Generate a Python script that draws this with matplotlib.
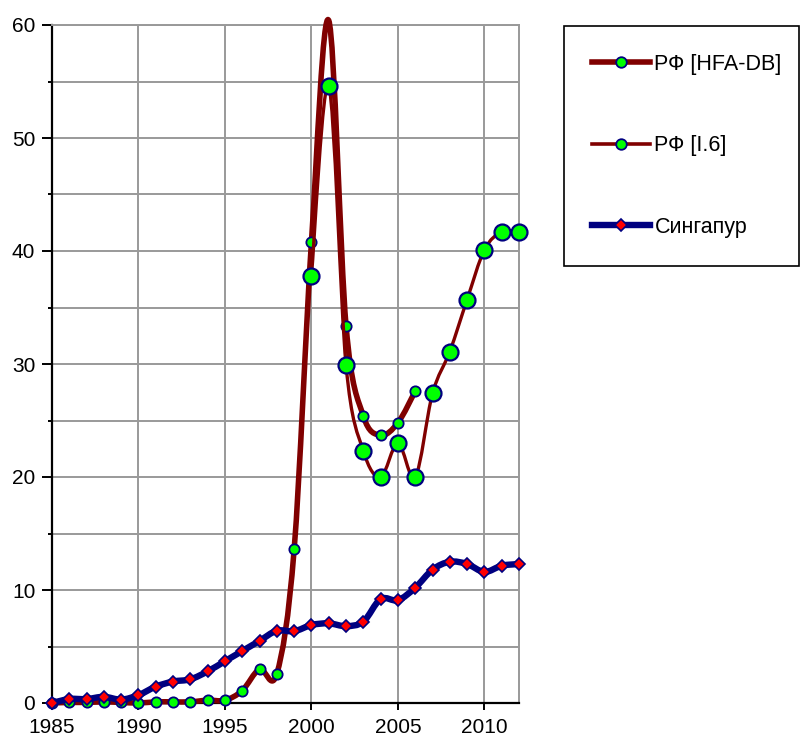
import numpy as np
import matplotlib
matplotlib.use('Agg')
import matplotlib.pyplot as plt
from matplotlib.path import Path
from matplotlib.patches import PathPatch
from matplotlib.lines import Line2D

plt.rcParams['font.family'] = ['Liberation Sans', 'DejaVu Sans']

# ---- data ----
years_hfa = list(range(1985, 2007))
hfa = [0.0, 0.05, 0.05, 0.1, 0.05, 0.0, 0.1, 0.1, 0.1, 0.25, 0.25,
       1.1, 3.0, 2.6, 13.6, 40.8, 60.4, 33.4, 25.4, 23.7, 24.8, 27.6]
years_i6 = list(range(2000, 2013))
i6 = [37.8, 54.6, 29.9, 22.3, 20.0, 23.0, 20.0, 27.4, 31.1, 35.7, 40.1, 41.7, 41.7]
years_sg = list(range(1985, 2013))
sg = [0.0, 0.35, 0.35, 0.55, 0.3, 0.7, 1.45, 1.9, 2.1, 2.8, 3.7,
      4.6, 5.5, 6.4, 6.35, 6.9, 7.05, 6.8, 7.2, 9.2, 9.1,
      10.2, 11.8, 12.5, 12.3, 11.6, 12.15, 12.3]
labels = ['РФ [HFA-DB]', 'РФ [I.6]', 'Сингапур']
xticks = list(range(1985, 2011, 5))
yticks = list(range(0, 61, 10))
ymin, ymax = 0, 60
xmin, xmax = 1985, 2012

DARKRED = '#800000'
NAVY = '#000080'
GREEN = '#00FF00'
RED = '#FF0000'


def smooth_path(x, y):
    x = np.asarray(x, float)
    y = np.asarray(y, float)
    n = len(x)
    verts = [(x[0], y[0])]
    codes = [Path.MOVETO]
    for i in range(n - 1):
        i0 = max(i - 1, 0)
        i3 = min(i + 2, n - 1)
        c1 = (x[i] + (x[i + 1] - x[i0]) / 6, y[i] + (y[i + 1] - y[i0]) / 6)
        c2 = (x[i + 1] - (x[i3] - x[i]) / 6, y[i + 1] - (y[i3] - y[i]) / 6)
        verts += [c1, c2, (x[i + 1], y[i + 1])]
        codes += [Path.CURVE4] * 3
    return Path(verts, codes)


fig = plt.figure(figsize=(8.01, 7.40), dpi=100)
ax = fig.add_axes([52 / 801, 37 / 740, 467 / 801, 678 / 740])
ax.set_xlim(xmin, xmax)
ax.set_ylim(ymin, ymax)

GRID = '#999999'
ax.set_xticks(xticks)
ax.set_yticks(yticks)
ax.set_yticks(list(range(5, 60, 10)), minor=True)
ax.grid(True, which='major', color=GRID, lw=1.4, zorder=0)
ax.grid(True, which='minor', axis='y', color=GRID, lw=1.4, zorder=0)
ax.set_axisbelow(True)
for s in ['top', 'right']:
    ax.spines[s].set_color(GRID)
    ax.spines[s].set_linewidth(1.4)
for s in ['left', 'bottom']:
    ax.spines[s].set_color('black')
    ax.spines[s].set_linewidth(1.6)
ax.tick_params(axis='y', which='major', length=7, width=1.4, pad=5, labelsize=15)
ax.tick_params(axis='y', which='minor', length=3, width=1.4)
ax.tick_params(axis='x', which='major', length=5, width=1.4, pad=6, labelsize=15)


def draw_series(xs, ys, color, lw, mk, ms, mfc, mew, z):
    p = PathPatch(smooth_path(xs, ys), fill=False, edgecolor=color, lw=lw,
                  capstyle='round', joinstyle='round', transform=ax.transData,
                  clip_on=False, zorder=z)
    ax.add_patch(p)
    yv = np.asarray(ys, float)
    ym = np.where(yv <= ymax, yv, np.nan)
    ax.plot(xs, ym, linestyle='none', marker=mk, ms=ms, mfc=mfc, mec=NAVY,
            mew=mew, clip_on=False, zorder=z + 0.5)


draw_series(years_hfa, hfa, DARKRED, 4.0, 'o', 7.4, GREEN, 1.3, 3)
draw_series(years_i6, i6, DARKRED, 2.4, 'o', 11.5, GREEN, 1.6, 4)
draw_series(years_sg, sg, NAVY, 4.6, 'D', 6.6, RED, 1.2, 5)

handles = [
    Line2D([], [], color=DARKRED, lw=4.0, marker='o', ms=7.6, mfc=GREEN, mec=NAVY, mew=1.3),
    Line2D([], [], color=DARKRED, lw=2.6, marker='o', ms=7.6, mfc=GREEN, mec=NAVY, mew=1.3),
    Line2D([], [], color=NAVY, lw=4.6, marker='D', ms=6.6, mfc=RED, mec=NAVY, mew=1.2),
]
leg = fig.legend(handles, labels, loc='upper left',
                 bbox_to_anchor=(564 / 801, 1 - 257 / 740, (799 - 564) / 801, (257 - 26) / 740),
                 mode='expand', fontsize=15.5, frameon=True, fancybox=False,
                 edgecolor='black', framealpha=1, borderpad=1.3,
                 labelspacing=2.8, handlelength=2.7, handletextpad=0.2,
                 borderaxespad=0)
leg.get_frame().set_linewidth(1.2)

fig.savefig('out.png', dpi=100)
